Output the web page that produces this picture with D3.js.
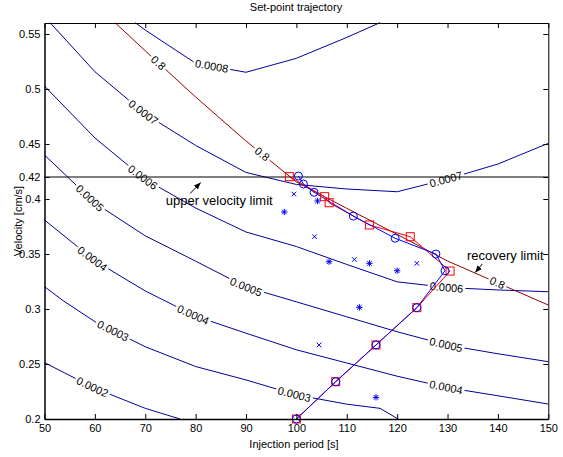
<!DOCTYPE html>
<html>
<head>
<meta charset="utf-8">
<script src="https://cdn.jsdelivr.net/npm/d3@7"></script>
<style>
  body { margin: 0; background: #fff; }
  text { font-family: Arial, "Liberation Sans", sans-serif; }
</style>
</head>
<body>
<div id="chart"></div>
<script>
// contour lines, [injection period, velocity]
const lvl2 = [[50,0.2512],[60,0.2279],[70,0.2097],[76.9,0.2]];
const lvl3 = [[50,0.3203],[53.5,0.3082],[60,0.2885],[70,0.2657],[80,0.2477],[90,0.2355],[100,0.2219],[110,0.2135],[116.6,0.2097],[120.2,0.2]];
const lvl4 = [[50,0.3809],[60,0.3439],[70,0.3164],[80,0.2935],[90,0.278],[100,0.2629],[110,0.2509],[120,0.2389],[130,0.2285],[140,0.2211],[150,0.2136]];
const lvl5 = [[50,0.44],[60,0.3964],[70,0.3665],[80,0.3435],[90,0.32],[100,0.3065],[110,0.2929],[120,0.2793],[130,0.2671],[140,0.2593],[150,0.2521]];
const lvl6 = [[50,0.5027],[60,0.4555],[70,0.4178],[80,0.3918],[90,0.37],[100,0.3568],[110,0.3405],[120,0.3247],[130,0.3195],[140,0.3173],[150,0.3157]];
const lvl7 = [[51.1,0.5603],[60,0.5157],[70,0.4773],[80,0.4487],[90,0.4241],[100,0.4132],[110,0.4091],[120,0.4066],[130,0.4182],[140,0.4318],[150,0.4506]];
const lvl8 = [[68,0.5603],[70,0.5536],[80,0.5234],[90,0.5152],[100,0.5279],[110,0.5469],[116.6,0.5603]];
const lvl80 = [[64,0.5603],[70,0.5347],[80,0.4927],[90,0.4527],[100,0.4155],[110,0.3915],[120,0.3678],[130,0.3436],[140,0.3236],[150,0.3036]];

// where the clabels sit (injection period)
const lab2 = [59.5];
const lab3 = [63.6, 99.6];
const lab4 = [59.5, 79.5, 129.7];
const lab5 = [59.0, 90.0, 129.7];
const lab6 = [69.5, 129.8];
const lab7 = [69.6, 129.7];
const lab8 = [83.2];
const lab80 = [72.6, 93.2, 139.9];

// trajectories
const redPath = [[100,0.2],[107.8,0.2339],[115.8,0.2673],[123.9,0.3012],[130.5,0.3345],[122.6,0.3657],[114.5,0.3764],[106.5,0.3966],[105.6,0.4021],[98.6,0.4203]];
const bluePath = [[100,0.2],[107.8,0.2339],[115.8,0.2673],[123.9,0.3012],[129.5,0.3348],[127.7,0.35],[119.6,0.3643],[111.3,0.3845],[103.5,0.4061],[101.4,0.4136],[100.4,0.4209]];
const starPts = [[104.2,0.3982],[97.6,0.3882],[106.5,0.343],[114.5,0.3415],[120,0.3348],[112.5,0.3015],[115.8,0.2197]];
const crossPts = [[99.5,0.4045],[103.6,0.3657],[111.5,0.345],[123.9,0.3415],[104.5,0.2673]];

const vLimit = 0.42;
const xTicks = [50,60,70,80,90,100,110,120,130,140,150];
const yTicks = [0.2,0.25,0.3,0.35,0.4,0.42,0.45,0.5,0.55];

const width = 563, height = 457;
const svg = d3.select("#chart").append("svg").attr("width", width).attr("height", height);

const x = d3.scaleLinear().domain([50,150]).range([44.5,548.3]);
const y = d3.scaleLinear().domain([0.2,0.56]).range([419,23]);
const line = d3.line().x(d => x(d[0])).y(d => y(d[1]));

const contours = [
  {pts: lvl2, labels: lab2, text: "0.0002", color: "#00009a"},
  {pts: lvl3, labels: lab3, text: "0.0003", color: "#00009a"},
  {pts: lvl4, labels: lab4, text: "0.0004", color: "#00009a"},
  {pts: lvl5, labels: lab5, text: "0.0005", color: "#00009a"},
  {pts: lvl6, labels: lab6, text: "0.0006", color: "#00009a"},
  {pts: lvl7, labels: lab7, text: "0.0007", color: "#00009a"},
  {pts: lvl8, labels: lab8, text: "0.0008", color: "#00009a"},
  {pts: lvl80, labels: lab80, text: "0.8", color: "#990000"}
];

const gC = svg.append("g");
const gL = svg.append("g").attr("font-size", 11);

contours.forEach(c => {
  const path = gC.append("path").datum(c.pts).attr("d", line)
    .attr("fill", "none").attr("stroke", c.color).attr("stroke-width", 1);
  const node = path.node();
  const total = node.getTotalLength();
  const gaps = [];
  c.labels.forEach(lx => {
    const px = x(lx);
    let lo = 0, hi = total;
    for (let i = 0; i < 40; i++) {
      const mid = (lo + hi) / 2;
      if (node.getPointAtLength(mid).x < px) lo = mid; else hi = mid;
    }
    const s = (lo + hi) / 2;
    const p = node.getPointAtLength(s);
    const a = node.getPointAtLength(Math.max(0, s - 8));
    const b = node.getPointAtLength(Math.min(total, s + 8));
    const ang = Math.atan2(b.y - a.y, b.x - a.x) * 180 / Math.PI;
    const t = gL.append("text")
      .attr("transform", `translate(${p.x},${p.y}) rotate(${ang})`)
      .attr("text-anchor", "middle").attr("dy", "0.35em")
      .text(c.text);
    const w = t.node().getComputedTextLength();
    gaps.push([s - w / 2 - 2, s + w / 2 + 2]);
  });
  let arr = [], pos = 0;
  gaps.sort((p, q) => p[0] - q[0]).forEach(([g0, g1]) => {
    arr.push(Math.max(0, g0 - pos), g1 - Math.max(g0, pos));
    pos = g1;
  });
  arr.push(total - pos + 10, 10);
  path.attr("stroke-dasharray", arr.join(" "));
});

// upper velocity limit
svg.append("line")
  .attr("x1", x(50)).attr("x2", x(150))
  .attr("y1", y(vLimit)).attr("y2", y(vLimit))
  .attr("stroke", "#000").attr("stroke-width", 1);

// trajectories
svg.append("path").datum(redPath).attr("d", line)
  .attr("fill", "none").attr("stroke", "#ff0000").attr("stroke-width", 1);
svg.append("path").datum(bluePath).attr("d", line)
  .attr("fill", "none").attr("stroke", "#0000ff").attr("stroke-width", 1);

svg.append("g").selectAll("rect").data(redPath).join("rect")
  .attr("x", d => x(d[0]) - 4).attr("y", d => y(d[1]) - 4)
  .attr("width", 8).attr("height", 8)
  .attr("fill", "none").attr("stroke", "#ff0000");
svg.append("g").selectAll("circle").data(bluePath).join("circle")
  .attr("cx", d => x(d[0])).attr("cy", d => y(d[1])).attr("r", 4)
  .attr("fill", "none").attr("stroke", "#0000ff");

const starShape = "M-3.2,0L3.2,0M0,-3.2L0,3.2M-2.3,-2.3L2.3,2.3M-2.3,2.3L2.3,-2.3";
const crossShape = "M-2.3,-2.3L2.3,2.3M-2.3,2.3L2.3,-2.3";
svg.append("g").selectAll("path").data(starPts).join("path")
  .attr("transform", d => `translate(${x(d[0])},${y(d[1])})`)
  .attr("d", starShape).attr("stroke", "#0000ff").attr("fill", "none");
svg.append("g").selectAll("path").data(crossPts).join("path")
  .attr("transform", d => `translate(${x(d[0])},${y(d[1])})`)
  .attr("d", crossShape).attr("stroke", "#0000ff").attr("fill", "none");

// annotations
const notes = [
  {text: "upper velocity limit", tx: 74.07, ty: 0.3945, from: [78.9, 0.405], to: [81.0, 0.415]},
  {text: "recovery limit", tx: 133.85, ty: 0.3445, from: [136.9, 0.3409], to: [135.5, 0.3332]}
];
svg.append("defs").append("marker")
  .attr("id", "head").attr("viewBox", "0 0 10 10")
  .attr("refX", 10).attr("refY", 5)
  .attr("markerWidth", 7).attr("markerHeight", 7)
  .attr("markerUnits", "userSpaceOnUse")
  .attr("orient", "auto")
  .append("path").attr("d", "M0,1L10,5L0,9Z").attr("fill", "#000");
notes.forEach(n => {
  svg.append("text").attr("x", x(n.tx)).attr("y", y(n.ty))
    .attr("font-size", 13).text(n.text);
  svg.append("line")
    .attr("x1", x(n.from[0])).attr("y1", y(n.from[1]))
    .attr("x2", x(n.to[0])).attr("y2", y(n.to[1]))
    .attr("stroke", "#000").attr("stroke-width", 1)
    .attr("marker-end", "url(#head)");
});

// axes (box with inward ticks)
const fontCss = "font-family: Arial, 'Liberation Sans', sans-serif";
const axB = svg.append("g").attr("transform", "translate(0,419)")
  .call(d3.axisBottom(x).tickValues(xTicks).tickSize(-5).tickSizeOuter(0).tickPadding(5));
const axT = svg.append("g").attr("transform", "translate(0,23)")
  .call(d3.axisTop(x).tickValues(xTicks).tickSize(-5).tickSizeOuter(0).tickFormat(""));
const axL = svg.append("g").attr("transform", "translate(44.5,0)")
  .call(d3.axisLeft(y).tickValues(yTicks).tickSize(-5).tickSizeOuter(0).tickPadding(4).tickFormat(d => String(d)));
const axR = svg.append("g").attr("transform", "translate(548.3,0)")
  .call(d3.axisRight(y).tickValues(yTicks).tickSize(-5).tickSizeOuter(0).tickFormat(""));
[axB, axT, axL, axR].forEach(g => {
  g.selectAll("text").attr("font-size", 11).attr("fill", "#000").attr("style", fontCss);
  g.selectAll("line").attr("stroke", "#000");
  g.select(".domain").attr("stroke", "#000");
});
axB.select(".domain").attr("stroke-width", 1.5);
axL.select(".domain").attr("stroke-width", 1.5);

// titles
svg.append("text").attr("x", 296).attr("y", 11).attr("text-anchor", "middle")
  .attr("font-size", 11).text("Set-point trajectory");
svg.append("text").attr("x", 294).attr("y", 448).attr("text-anchor", "middle")
  .attr("font-size", 11).text("Injection period [s]");
svg.append("text").attr("transform", "translate(22,221) rotate(-90)")
  .attr("text-anchor", "middle").attr("font-size", 11).text("Velocity [cm/s]");
</script>
</body>
</html>
